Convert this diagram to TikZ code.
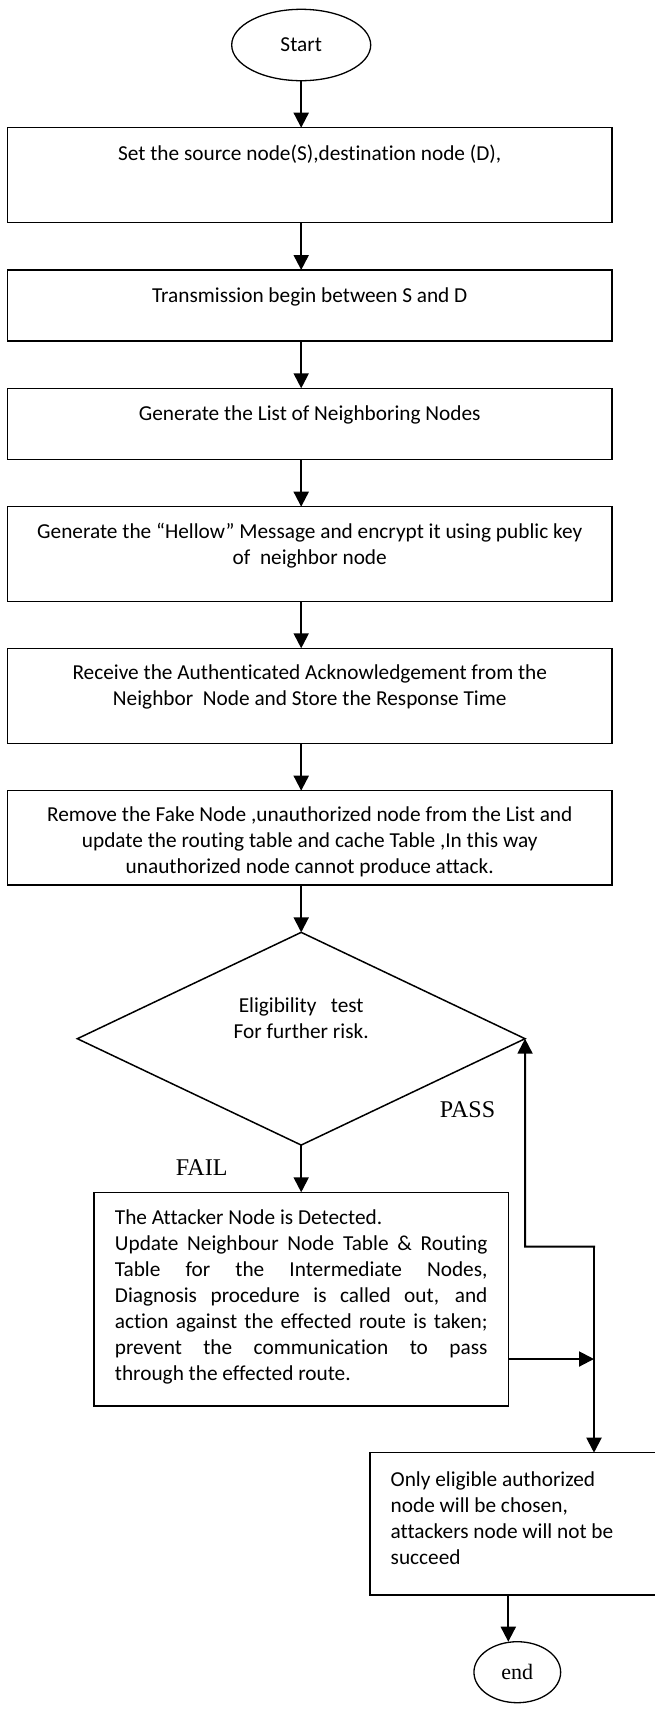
\documentclass[tikz,border=0pt]{standalone}
\usepackage{fontspec}
\setmainfont{Carlito}[Ligatures=NoCommon]
\newfontfamily\timesf{Liberation Serif}
\usetikzlibrary{shapes.geometric,arrows.meta}

\begin{document}
\begin{tikzpicture}[x=1pt,y=-1pt,
  every node/.style={inner sep=0pt, outer sep=0pt},
  stepbox/.style={draw, line width=1.4pt, rectangle, minimum width=604.5pt},
  plainbox/.style={draw, line width=1.4pt, rectangle},
  terminal/.style={draw, ellipse, line width=1.3pt},
  flow/.style={line width=2pt, -{Triangle[length=15pt,width=15pt]}},
  body/.style={font=\fontsize{21.3}{26}\selectfont, anchor=base},
  serif/.style={font=\timesf\fontsize{24}{28}\selectfont},
]
\useasboundingbox (0,0) rectangle (655,1709);
\fill[white] (0,0) rectangle (655,1709);
\clip (0,0) rectangle (655,1709);

% start terminal
\node[terminal, minimum width=139pt, minimum height=71.4pt,
      font=\fontsize{21.3}{26}\selectfont] (start) at (301.2,45) {Start};

% process steps
\node[stepbox, minimum height=95pt]   (b1) at (309.75,175.2) {};
\node[stepbox, minimum height=71pt]   (b2) at (309.75,305.5) {};
\node[stepbox, minimum height=71pt]   (b3) at (309.75,423.8) {};
\node[stepbox, minimum height=94.6pt] (b4) at (309.75,554) {};
\node[stepbox, minimum height=95pt]   (b5) at (309.75,695.8) {};
\node[stepbox, minimum height=94.3pt] (b6) at (309.75,837.85) {};

\node[body] (t1) at (309.75,160) {\parbox[t]{600pt}{\centering Set the source node(S),destination node (D),}};
\node[body] (t2) at (309.75,302.5) {\parbox[t]{600pt}{\centering Transmission begin between S and D}};
\node[body] (t3) at (309.75,420) {\parbox[t]{600pt}{\centering Generate the List of Neighboring Nodes}};
\node[body] (t4) at (309.75,538.2) {\parbox[t]{600pt}{\centering Generate the “Hellow” Message and encrypt it using public key\\of\ \ neighbor node}};
\node[body] (t5) at (309.75,679.8) {\parbox[t]{600pt}{\centering Receive the Authenticated Acknowledgement from the\\Neighbor\ \ Node and Store the Response Time}};
\node[body] (t6) at (309.75,821.5) {\parbox[t]{600pt}{\centering Remove the Fake Node ,unauthorized node from the List and\\update the routing table and cache Table ,In this way\\unauthorized node cannot produce attack.}};

% decision
\node[draw, diamond, line width=1.5pt, minimum width=447.7pt, minimum height=212.7pt] (test) at (301.2,1038.7) {};
\node[body] (ttest) at (301.2,1012.5) {\parbox[t]{300pt}{\centering Eligibility\ \ \ test\\For further risk.}};

\node[serif] (fail) at (201.7,1168) {FAIL};
\node[serif] (pass) at (467.5,1110) {PASS};

% attacker handling
\node[plainbox, minimum width=414.4pt, minimum height=213.7pt] (att) at (301.2,1299.15) {};
\node[body, anchor=base west] (tatt) at (114.9,1224.2) {\parbox[t]{372.6pt}{\hbadness=10000
The Attacker Node is Detected.\\
Update Neighbour Node Table \& Routing\linebreak
Table for the Intermediate Nodes,\linebreak
Diagnosis procedure is called out, and\linebreak
action against the effected route is taken;\linebreak
prevent the communication to pass\linebreak
through the effected route.}};

% final selection
\node[plainbox, minimum width=330pt, minimum height=142.3pt] (fin) at (535,1523.85) {};
\node[body, anchor=base west] (tfin) at (390.7,1486) {\parbox[t]{260pt}{\raggedright
Only eligible authorized\\node will be chosen,\\attackers node will not be\\succeed}};

% end terminal
\node[terminal, minimum width=86.7pt, minimum height=61pt,
      font=\timesf\fontsize{22}{26}\selectfont] (end) at (517.3,1672.2) {end};

% routing points of the return path
\coordinate (j1) at (525,1246.7);
\coordinate (j2) at (594,1246.7);
\coordinate (j3) at (594,1359);
\coordinate (ea) at (508.3,1595);

% connectors
\draw[flow] (start.south) -- (start.south |- b1.north);
\draw[flow] (b1.south -| start) -- (b2.north -| start);
\draw[flow] (b2.south -| start) -- (b3.north -| start);
\draw[flow] (b3.south -| start) -- (b4.north -| start);
\draw[flow] (b4.south -| start) -- (b5.north -| start);
\draw[flow] (b5.south -| start) -- (b6.north -| start);
\draw[flow] (b6.south -| test) -- (test.north);
\draw[flow] (test.south) -- (att.north);
\draw[flow, line cap=rect] (j2) -- (j1) -- (test.east);
\draw[flow, line cap=rect] (j2) -- (fin.north -| j2);
\draw[flow] (att.east |- j3) -- (j3);
\draw[flow] (fin.south -| ea) -- (end.north -| ea);
\end{tikzpicture}
\end{document}
